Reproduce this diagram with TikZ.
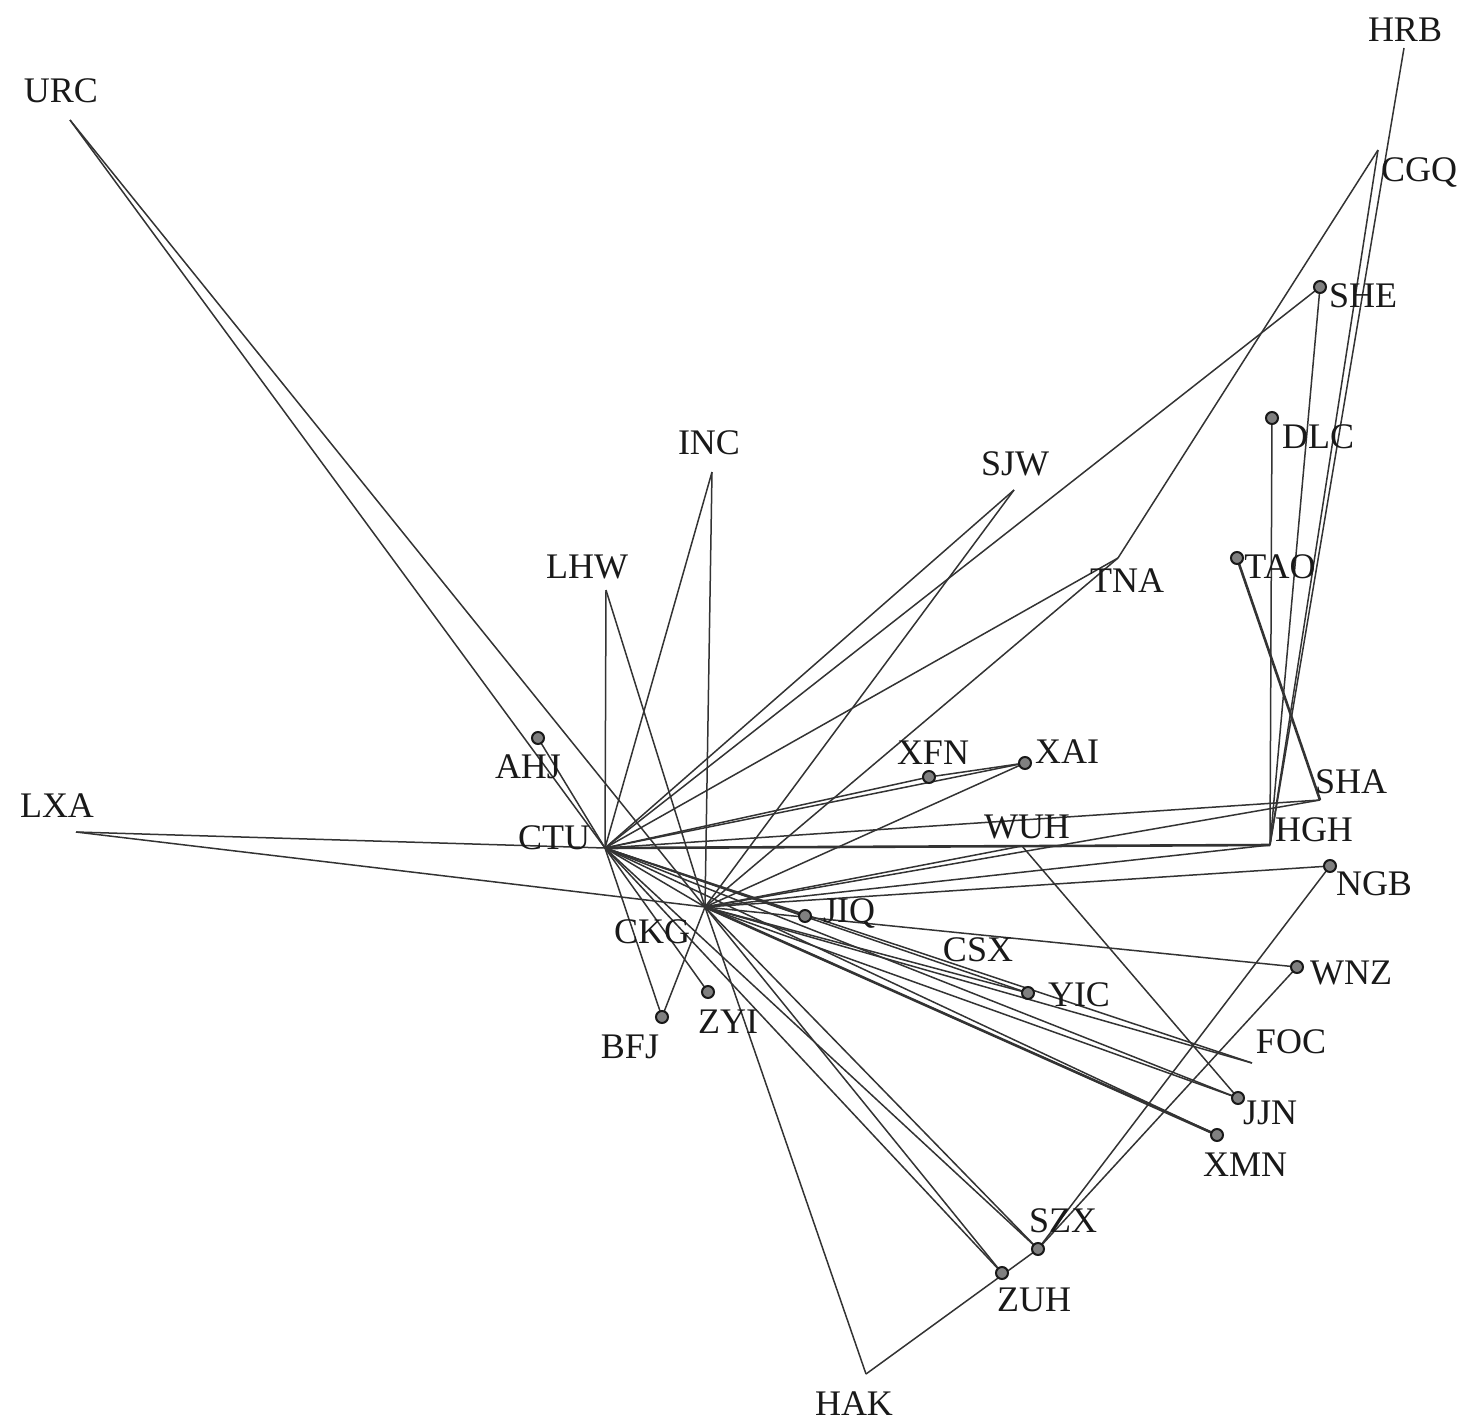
\documentclass[tikz,border=0pt]{standalone}
\usepackage{fontspec}
\setmainfont{Liberation Serif}

\tikzset{
    route/.style={line width=1.5pt,black!80},
    stop/.style={circle,draw=black!90,line width=2pt,fill=black!50,inner sep=0pt,minimum size=12pt},
    code/.style={font=\fontsize{36}{36}\selectfont,text=black!90,inner sep=0pt},
}

\begin{document}
\begin{tikzpicture}[x=1pt,y=-1pt]
    \useasboundingbox (0,0) rectangle (1476,1427);

    \foreach \n/\x/\y in {CTU/605/848,CKG/705/907,URC/70/120,LXA/76/832,LHW/606/590,INC/712/472,
        AHJ/538/738,BFJ/662/1017,ZYI/708/992,SJW/1014/490,TNA/1118/558,CGQ/1378/150,HRB/1404/48,
        SHE/1320/287,DLC/1272/418,TAO/1237/558,SHA/1320/800,HGH/1270/845,XFN/929/777,XAI/1025/763,
        WUH/1022/846,JIQ/805/916,YIC/1028/993,NGB/1330/866,WNZ/1297/967,FOC/1252/1063,JJN/1238/1098,
        XMN/1217/1135,SZX/1038/1249,ZUH/1002/1273,HAK/866/1374}
        \coordinate (\n) at (\x,\y);

    \foreach \n in {URC,LXA,LHW,INC,AHJ,BFJ,ZYI,SJW,TNA,SHE,XFN,XAI,SHA,JIQ,YIC,FOC,JJN,XMN,SZX,ZUH,CKG}
        \draw[route] (CTU) -- (\n);
    \foreach \n in {URC,LXA,LHW,INC,BFJ,SJW,TNA,XAI,SHA,HGH,NGB,WNZ,WUH,YIC,FOC,JJN,XMN,SZX,ZUH,HAK}
        \draw[route] (CKG) -- (\n);
    \foreach \a/\b in {TNA/CGQ,SHE/HGH,DLC/HGH,HRB/HGH,CGQ/HGH,XFN/XAI,WUH/JJN,NGB/SZX,WNZ/SZX,HAK/SZX}
        \draw[route] (\a) -- (\b);
    \draw[route,line width=2.6pt] (CTU) -- (HGH);
    \draw[route,line width=2.6pt] (TAO) -- (SHA);
    \draw[route,line width=2.6pt] (CKG) -- (XMN);

    \foreach \n in {AHJ,BFJ,ZYI,JIQ,XFN,XAI,YIC,SHE,DLC,TAO,NGB,WNZ,JJN,XMN,SZX,ZUH}
        \node[stop] (\n-o) at (\n) {};

    \foreach \n/\x/\y in {URC/61/91,HRB/1405/30,CGQ/1419/172,SHE/1363/296,DLC/1318/437,TAO/1280/567,
        TNA/1127/581,SJW/1015/464,INC/709/443,LHW/587/567,AHJ/528/767,LXA/57/806,CTU/554/838,
        XFN/933/753,XAI/1067/752,WUH/1027/827,SHA/1351/782,HGH/1314/830,NGB/1374/884,JIQ/849/913,
        CKG/652/932,CSX/978/950,YIC/1079/995,WNZ/1351/973,FOC/1291/1042,JJN/1270/1113,
        XMN/1245/1165,BFJ/630/1047,ZYI/728/1022,SZX/1063/1221,ZUH/1034/1300,HAK/854/1404}
        \node[code] (\n-l) at (\x,\y) {\n};
\end{tikzpicture}
\end{document}
